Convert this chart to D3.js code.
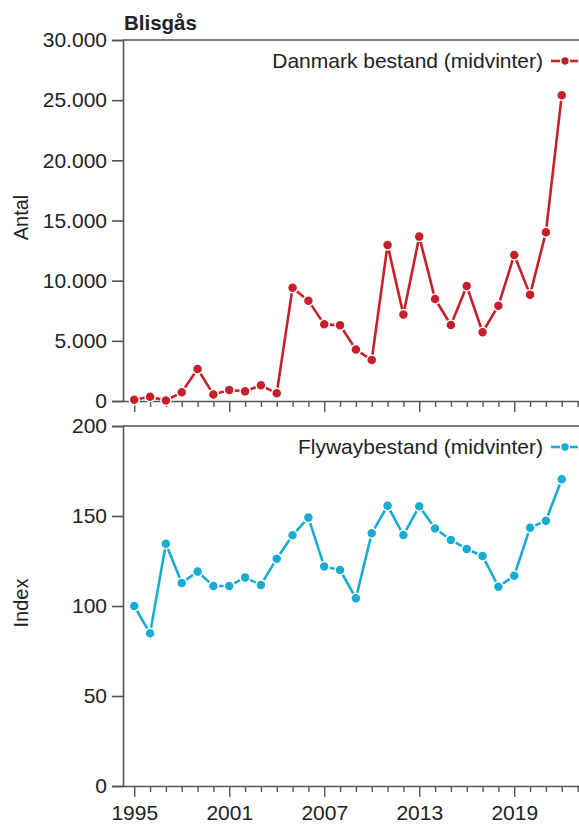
<!DOCTYPE html>
<html><head><meta charset="utf-8">
<script src="https://cdn.jsdelivr.net/npm/d3@7"></script>
<style>
html,body{margin:0;padding:0;background:#fff;}
svg{display:block;font-family:"Liberation Sans",Arial,Helvetica,sans-serif;}
</style></head><body>
<svg id="c" width="579" height="825"></svg>
<script>
const years = [1995,1996,1997,1998,1999,2000,2001,2002,2003,2004,2005,2006,2007,2008,2009,2010,2011,2012,2013,2014,2015,2016,2017,2018,2019,2020,2021,2022];
const denmark = [100,360,50,720,2660,550,910,800,1300,640,9420,8340,6370,6290,4270,3410,12970,7180,13660,8480,6320,9560,5710,7920,12140,8840,14020,25400];
const flyway = [100,84.8,134.6,112.8,119.1,111.1,111.1,115.9,111.7,126.3,139.3,149.1,121.9,120,104.3,140.4,155.7,139.4,155.4,143.1,136.7,131.7,127.8,110.7,116.8,143.5,147.4,170.4];
const topTicks = [0,5000,10000,15000,20000,25000,30000];
const bottomTicks = [0,50,100,150,200];
const xLabelYears = [1995,2001,2007,2013,2019];
const title = "Blisgås";
const topLegend = "Danmark bestand (midvinter)";
const bottomLegend = "Flywaybestand (midvinter)";
const topYLabel = "Antal";
const bottomYLabel = "Index";

const RED = "#c8202b", CYAN = "#19acd2", AX = "#555";
const svg = d3.select("#c");
const left = 123, right = 579;
const x = d3.scaleLinear().domain([1994.29, 2023.09]).range([left, right]);
const allYears = d3.range(1995, 2024);
const fmt = v => d3.formatLocale({decimal:",", thousands:".", grouping:[3], currency:["",""]}).format(",")(v);

function panel(top, bottom, domainMax, ticks, data, color, yLabel, legend, showXLabels, tickFmt){
  const y = d3.scaleLinear().domain([0, domainMax]).range([bottom, top]);
  const g = svg.append("g");
  g.append("line").attr("x1", left).attr("x2", right).attr("y1", top).attr("y2", top)
    .attr("stroke", AX).attr("stroke-width", 1.6);
  const ya = g.append("g").attr("transform", `translate(${left},0)`)
    .call(d3.axisLeft(y).tickValues(ticks).tickSize(11).tickPadding(5).tickFormat(tickFmt));
  ya.select(".domain").attr("stroke", AX).attr("stroke-width", 1.6);
  ya.selectAll(".tick line").attr("stroke", AX).attr("stroke-width", 1.6);
  ya.selectAll(".tick text").attr("fill", "#222").style("font-size", "21px")
    .style("font-family", "'Liberation Sans',Arial,sans-serif");
  const xa = g.append("g").attr("transform", `translate(0,${bottom})`)
    .call(d3.axisBottom(x).tickValues(allYears).tickSizeOuter(0)
      .tickSize(0).tickFormat(""));
  xa.select(".domain").attr("stroke", AX).attr("stroke-width", 1.6);
  xa.selectAll(".tick line")
    .attr("y2", d => xLabelYears.includes(d) ? 11 : 6)
    .attr("stroke", AX).attr("stroke-width", 1.4);
  if (showXLabels) {
    xa.selectAll(".tick").append("text")
      .attr("y", 34).attr("text-anchor", "middle").attr("fill", "#222")
      .style("font-size", "21px")
      .text(d => xLabelYears.includes(d) ? d : "");
  }
  svg.append("text").attr("transform", `translate(28,${(top+bottom)/2 - 3}) rotate(-90)`)
    .attr("text-anchor", "middle").attr("fill", "#222").style("font-size", "20px").text(yLabel);
  const pts = years.map((yr, i) => [yr, data[i]]);
  g.append("path").datum(pts)
    .attr("d", d3.line().x(d => x(d[0])).y(d => y(d[1])))
    .attr("fill", "none").attr("stroke", color).attr("stroke-width", 2.6).attr("stroke-linejoin", "round");
  g.selectAll("circle.pt").data(pts).join("circle").attr("class", "pt")
    .attr("cx", d => x(d[0])).attr("cy", d => y(d[1])).attr("r", 5)
    .attr("fill", color).attr("stroke", "#fff").attr("stroke-width", 1.5);
  const ly = top + 21;
  g.append("text").attr("x", 543).attr("y", ly + 7).attr("text-anchor", "end")
    .attr("fill", "#222").style("font-size", "21px").text(legend);
  g.append("line").attr("x1", 551).attr("x2", 578).attr("y1", ly).attr("y2", ly)
    .attr("stroke", color).attr("stroke-width", 2.6);
  g.append("circle").attr("cx", 565).attr("cy", ly).attr("r", 4.4)
    .attr("fill", color).attr("stroke", "#fff").attr("stroke-width", 1.5);
}

panel(40, 401, 30000, topTicks, denmark, RED, topYLabel, topLegend, false, fmt);
panel(426, 786, 200, bottomTicks, flyway, CYAN, bottomYLabel, bottomLegend, true, d => d);

svg.append("text").attr("x", 124).attr("y", 30).attr("fill", "#222")
  .style("font-size", "20.5px").style("font-weight", "bold").text(title);
</script>
</body></html>
